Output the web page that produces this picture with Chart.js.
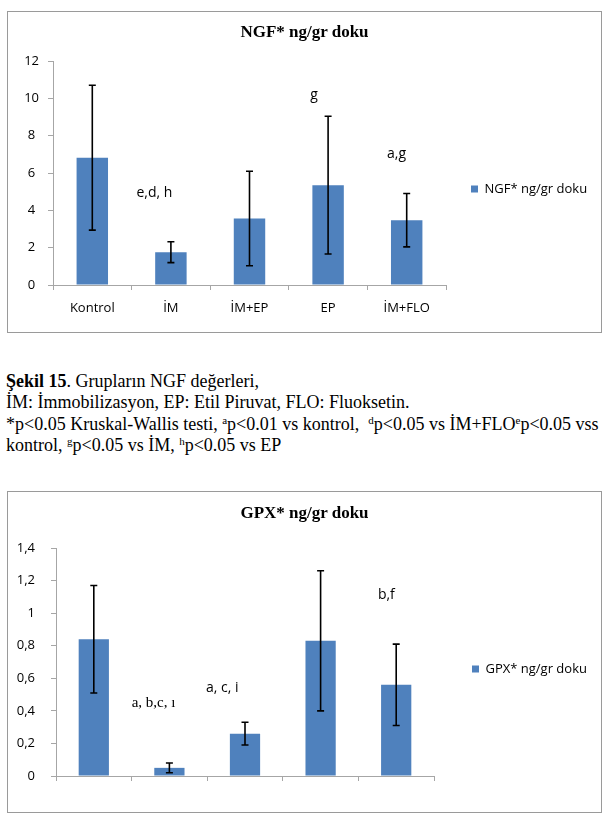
<!DOCTYPE html>
<html>
<head>
<meta charset="utf-8">
<script src="https://cdn.jsdelivr.net/npm/chart.js@4.4.1/dist/chart.umd.min.js"></script>
<style>
  html, body { margin: 0; padding: 0; background: #fff; }
  #page { position: relative; width: 608px; height: 827px; overflow: hidden; }
  .box { position: absolute; left: 7px; width: 593px; height: 320px; border: 1px solid #9a9a9a; background: #fff; }
  .box canvas { position: absolute; left: 0; top: 0; }
  .title { position: absolute; left: 0; width: 100%; text-align: center; line-height: 20px;
           font: bold 17px "Liberation Serif", "Times New Roman", serif; color: #000; }
  .caption { position: absolute; left: 6px; top: 371px; font: 18px "Liberation Serif", "Times New Roman", serif;
             line-height: 21.3px; white-space: nowrap; color: #000; }
  .caption sup { font-size: 11px; vertical-align: 6px; line-height: 0; }
</style>
</head>
<body>
<div id="page">
  <div class="box" style="top:11px">
    <canvas id="ngfChart" width="593" height="320"></canvas>
    <div class="title" style="top:10px">NGF* ng/gr doku</div>
  </div>

  <div class="caption">
    <div><b>Şekil 15</b>. Grupların NGF değerleri,</div>
    <div>İM: İmmobilizasyon, EP: Etil Piruvat, FLO: Fluoksetin.</div>
    <div>*p&lt;0.05 Kruskal-Wallis testi, <sup>a</sup>p&lt;0.01 vs kontrol,&nbsp; <sup>d</sup>p&lt;0.05 vs İM+FLO<sup>e</sup>p&lt;0.05 vss</div>
    <div>kontrol, <sup>g</sup>p&lt;0.05 vs İM, <sup>h</sup>p&lt;0.05 vs EP</div>
  </div>

  <div class="box" style="top:491px">
    <canvas id="gpxChart" width="593" height="320"></canvas>
    <div class="title" style="top:11px">GPX* ng/gr doku</div>
  </div>
</div>

<script>
// groups on the x axis
const groups = ['Kontrol', 'İM', 'İM+EP', 'EP', 'İM+FLO'];

// NGF: mean and standard deviation
const ngfMean = [6.82, 1.76, 3.56, 5.35, 3.47];
const ngfSd = [3.88, 0.56, 2.53, 3.69, 1.43];
const ngfTicks = ['0', '2', '4', '6', '8', '10', '12'];
const ngfNoteText = ['e,d, h', 'g', 'a,g'];
const ngfNoteX = [0.79, 2.82, 3.87];
const ngfNoteY = [4.93, 10.2, 7.0];

// GPX: mean and standard deviation
const gpxMean = [0.84, 0.05, 0.26, 0.83, 0.56];
const gpxSd = [0.33, 0.03, 0.07, 0.43, 0.25];
const gpxTicks = ['0', '0,2', '0,4', '0,6', '0,8', '1', '1,2', '1,4'];
const gpxNoteText = ['a, b,c, ı', 'a, c, i', 'b,f'];
const gpxNoteX = [0.79, 1.70, 3.87];
const gpxNoteY = [0.448, 0.54, 1.11];

const barColor = '#4f81bd';
const axisColor = '#a6a6a6';
const sans = 'Open Sans';
const labelSize = 13;
const canvasW = 593;

// error bars (mean +/- sd), drawn through the y scale
const errorBars = {
  id: 'errorBars',
  afterDatasetsDraw(chart, args, opts) {
    const ctx = chart.ctx;
    const y = chart.scales.y;
    const meta = chart.getDatasetMeta(0);
    const values = chart.data.datasets[0].data;
    ctx.save();
    ctx.strokeStyle = '#000';
    ctx.lineWidth = 1.6;
    meta.data.forEach((bar, i) => {
      const top = y.getPixelForValue(values[i] + opts.sd[i]);
      const bottom = y.getPixelForValue(values[i] - opts.sd[i]);
      ctx.beginPath();
      ctx.moveTo(bar.x, top);
      ctx.lineTo(bar.x, bottom);
      ctx.moveTo(bar.x - 3.5, top);
      ctx.lineTo(bar.x + 3.5, top);
      ctx.moveTo(bar.x - 3.5, bottom);
      ctx.lineTo(bar.x + 3.5, bottom);
      ctx.stroke();
    });
    ctx.restore();
  }
};

// significance letters
const notes = {
  id: 'notes',
  afterDatasetsDraw(chart, args, opts) {
    const ctx = chart.ctx;
    const {x, y} = chart.scales;
    ctx.save();
    ctx.fillStyle = '#000';
    ctx.textAlign = 'center';
    ctx.textBaseline = 'middle';
    opts.text.forEach((t, i) => {
      ctx.font = (opts.fonts && opts.fonts[i]) || ('14px "' + sans + '"');
      ctx.fillText(t, x.getPixelForValue(opts.x[i]), y.getPixelForValue(opts.y[i]));
    });
    ctx.restore();
  }
};

// push the legend a bit further from the plot (Excel leaves a wide gap)
const legendShift = {
  id: 'legendShift',
  afterLayout(chart, args, opts) {
    chart.legend.left += opts.dx;
    chart.legend.right += opts.dx;
  }
};

// width the right-hand legend will take, so the plot keeps its right edge
function legendWidth(label) {
  const ctx = document.createElement('canvas').getContext('2d');
  ctx.font = labelSize + 'px "' + sans + '"';
  return 10 + 7 + labelSize / 2 + ctx.measureText(label).width + 10;
}

function buildChart(id, label, values, sd, yAxis, layout, noteOpts) {
  const rightPad = canvasW - layout.plotRight - legendWidth(label);
  return new Chart(document.getElementById(id), {
    type: 'bar',
    data: {
      labels: groups,
      datasets: [{
        label: label,
        data: values,
        backgroundColor: barColor,
        borderWidth: 0,
        barPercentage: 0.4,
        categoryPercentage: 1
      }]
    },
    options: {
      responsive: false,
      animation: false,
      devicePixelRatio: 1,
      events: [],
      layout: { padding: { left: 0, right: rightPad, top: layout.top, bottom: layout.bottom } },
      plugins: {
        title: { display: false },
        tooltip: { enabled: false },
        legend: {
          position: 'right',
          labels: {
            boxWidth: 7,
            boxHeight: 7,
            padding: 10,
            color: '#000',
            font: { family: sans, size: labelSize }
          }
        },
        legendShift: { dx: layout.legendGap - 10 },
        errorBars: { sd: sd },
        notes: noteOpts
      },
      scales: {
        x: {
          grid: { drawOnChartArea: false, tickLength: 5, color: axisColor },
          border: { color: axisColor },
          ticks: { padding: layout.xPad, color: '#000', font: { family: sans, size: labelSize } },
          afterFit(s) { s.height = layout.xH; }
        },
        y: {
          min: yAxis.min,
          max: yAxis.max,
          grid: { drawOnChartArea: false, tickLength: 5, color: axisColor },
          border: { color: axisColor },
          ticks: {
            stepSize: yAxis.step,
            padding: layout.yPad,
            crossAlign: layout.yAlign,
            color: '#000',
            font: { family: sans, size: labelSize },
            callback: (v, i) => yAxis.labels[i]
          },
          afterFit(s) { s.width = layout.yW; }
        }
      }
    },
    plugins: [legendShift, errorBars, notes]
  });
}

buildChart('ngfChart', 'NGF* ng/gr doku', ngfMean, ngfSd,
  { min: 0, max: 12, step: 2, labels: ngfTicks },
  { top: 49, bottom: 15, plotRight: 438, legendGap: 25, xH: 32, xPad: 10, yW: 45, yPad: 9, yAlign: 'center' },
  { text: ngfNoteText, x: ngfNoteX, y: ngfNoteY });

buildChart('gpxChart', 'GPX* ng/gr doku', gpxMean, gpxSd,
  { min: 0, max: 1.4, step: 0.2, labels: gpxTicks },
  { top: 56, bottom: 22, plotRight: 426, legendGap: 38, xH: 14, xPad: 11, yW: 48, yPad: 16, yAlign: 'near' },
  { text: gpxNoteText, x: gpxNoteX, y: gpxNoteY,
    fonts: ['15px "Liberation Serif"', null, null] });
</script>
</body>
</html>
